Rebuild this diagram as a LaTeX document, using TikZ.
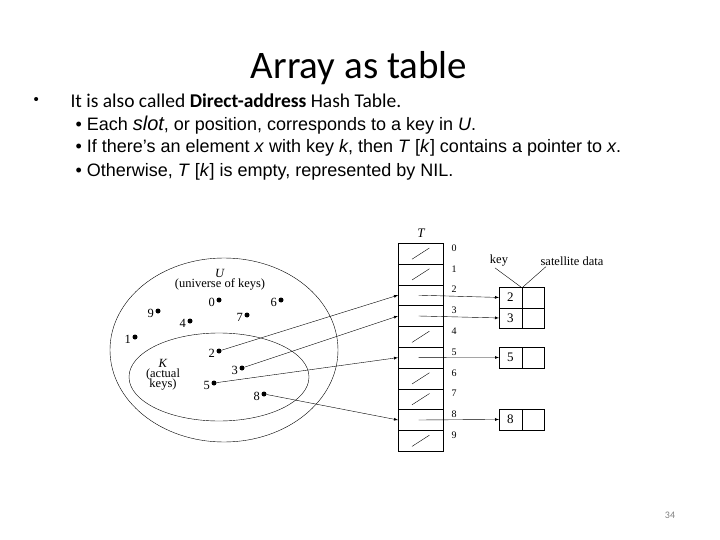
\documentclass[tikz,border=0pt]{standalone}
\usepackage{fontspec}
\setmainfont{Liberation Serif}
\newfontfamily\carlfont{Carlito}
\newfontfamily\arifont{Liberation Sans}
\begin{document}
\begin{tikzpicture}[x=1pt,y=-1pt,
  dot/.style={circle,fill=black,inner sep=0pt,minimum size=5pt},
  lbl/.style={font=\fontsize{12.5}{13}\selectfont,inner sep=1pt},
  arr/.style={-latex,thin},
  cell/.style={draw,minimum width=45pt,minimum height=20.8pt,inner sep=0pt,anchor=north west},
  kbox/.style={draw,minimum width=22.5pt,minimum height=20.5pt,inner sep=0pt,anchor=north west,font=\fontsize{13}{13}\selectfont}]
\useasboundingbox (0,0) rectangle (720,540);
\node[font=\carlfont\fontsize{39}{40}\selectfont] (title) at (359,68) {Array as table};
\node[font=\arifont\fontsize{15}{16}\selectfont,anchor=west] (b0) at (30,101) {•};
\node[font=\carlfont\fontsize{19.5}{21}\selectfont,anchor=west] (l0) at (67,101) {It is also called \textbf{Direct-address} Hash Table.};
\begin{scope}[every node/.style={font=\arifont\fontsize{18}{20}\selectfont,anchor=west}]
\node (l1) at (72,125) {•\hspace{5pt}Each \textit{\fontsize{20}{20}\selectfont slot}, or position, corresponds to a key in \textit{U}.};
\node (l2) at (72,148) {•\hspace{5pt}If there’s an element \textit{x} with key \textit{k}, then \textit{T} [\textit{k}] contains a pointer to \textit{x}.};
\node (l3) at (72,172) {•\hspace{5pt}Otherwise, \textit{T} [\textit{k}] is empty, represented by NIL.};
\end{scope}
% ellipses
\draw (224,350) ellipse [x radius=114, y radius=92];
\draw (219,377) ellipse [x radius=90, y radius=44];
\node[lbl,align=center] (ul) at (220,280) {\textit{U}\\[-3pt](universe of keys)};
\node[lbl,align=center] (kl) at (163,375) {\textit{K}\\[-3pt](actual\\[-3pt]keys)};
% points
\foreach \n/\x/\y in {0/219/300,6/281/300,9/158/311,4/190/321,7/247/315,1/135/337,2/219/351,3/242/368,5/214/383,8/264/394}{
  \node[dot] (p\n) at (\x,\y) {};
  \node[lbl,anchor=east] (t\n) at (\x-3,\y+2) {\n};
}
% table
\node[font=\fontsize{13}{13}\selectfont\itshape] (T) at (421,233) {T};
\foreach \i in {0,...,9}{
  \node[cell] (r\i) at (398,{243+20.8*\i}) {};
  \node[font=\fontsize{10}{10}\selectfont,anchor=west] (n\i) at (448,{248+20.8*\i}) {\i};
}
\foreach \i in {0,1,4,6,7,9}{
  \draw ([shift={(14,-5)}]r\i.south west) -- ([shift={(-14,5)}]r\i.north east);
}
% key boxes
\foreach \k/\y in {2/287,3/307.5,5/347,8/409}{
  \node[kbox] (k\k) at (499,\y) {\k};
  \node[kbox] (s\k) at (521.5,\y) {};
  \draw[arr] ([xshift=-2pt]r\k.center) -- (k\k.west);
}
\node[lbl] (key) at (499,261) {key};
\node[lbl] (sat) at (572,261) {satellite data};
\draw ([xshift=-4pt]key.south) -- ([xshift=-1pt]k2.north east);
\draw ([xshift=-26pt]sat.south) -- ([xshift=-10pt]s2.north);
% arrows
\foreach \k in {2,3,5,8}{ \draw[arr] (p\k) -- (r\k.west); }
\node[font=\carlfont\fontsize{10}{10}\selectfont,text=gray] (pg) at (670,515) {34};
\end{tikzpicture}
\end{document}
